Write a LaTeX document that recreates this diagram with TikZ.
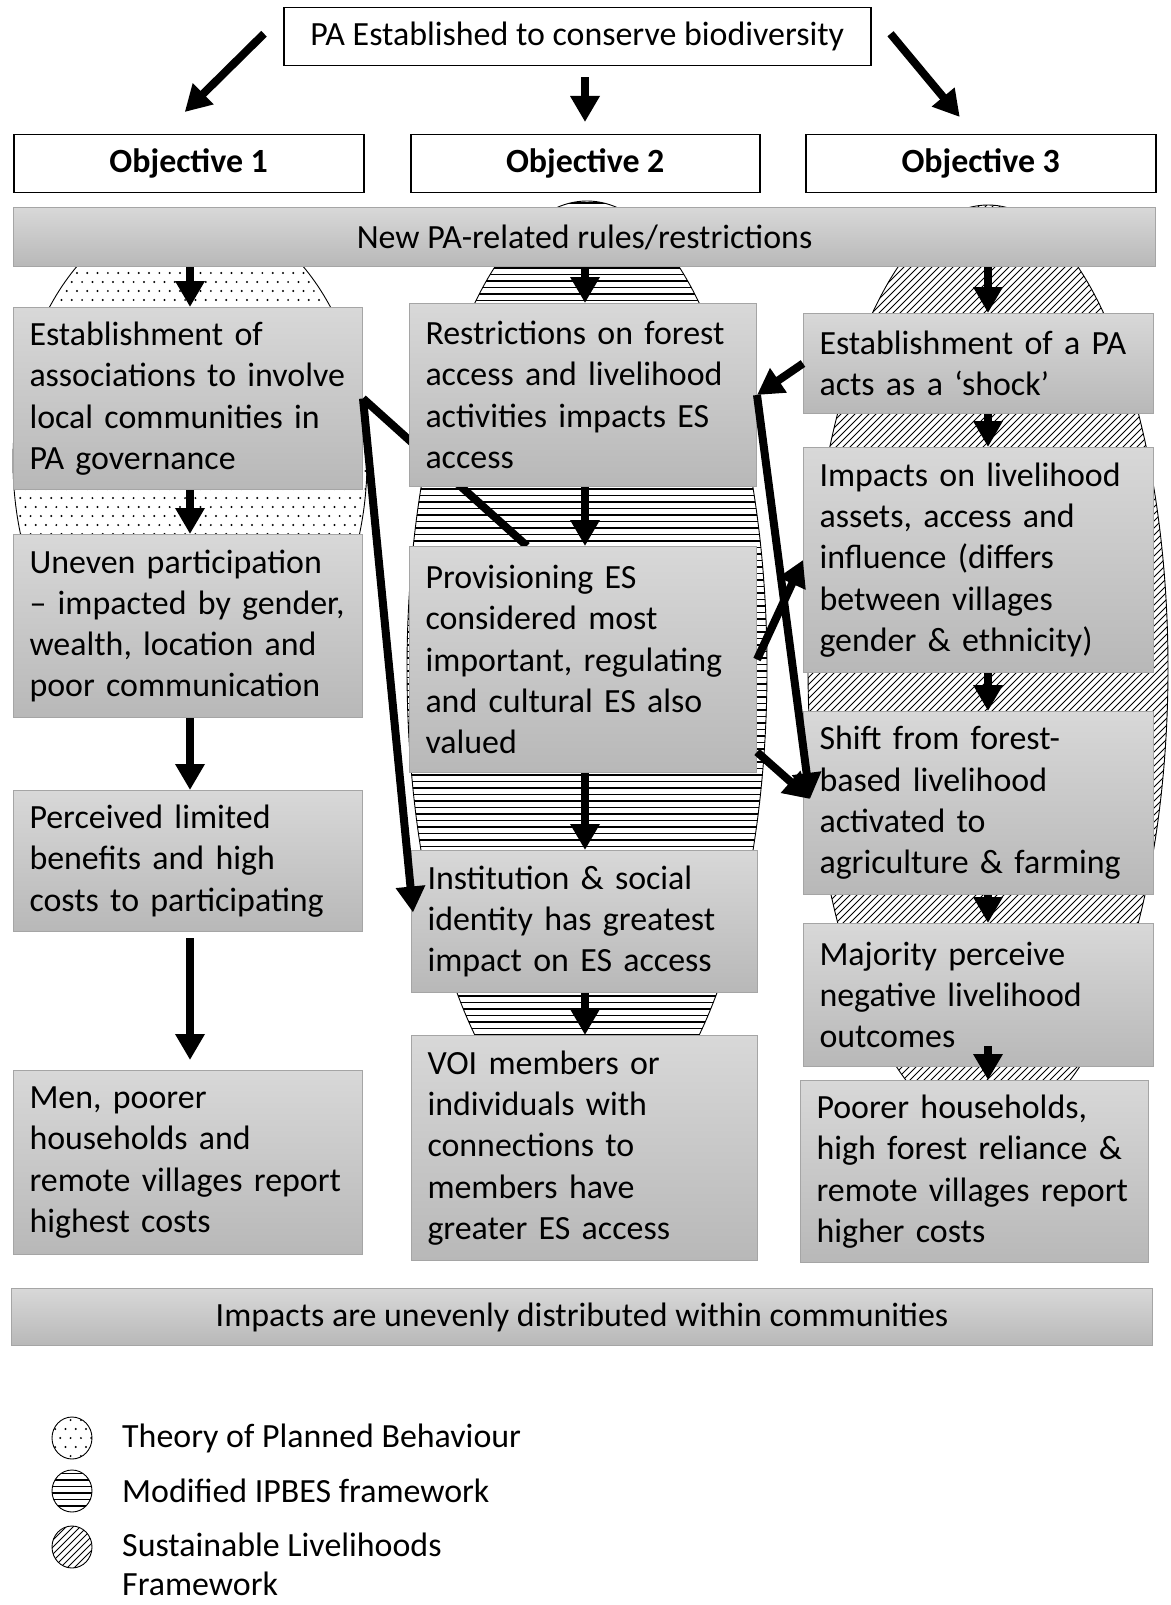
\documentclass[tikz,border=0pt]{standalone}
\usepackage{fontspec}
\setmainfont{Carlito}
\usetikzlibrary{arrows.meta,calc}

\definecolor{gtop}{RGB}{216,216,216}
\definecolor{gbot}{RGB}{184,184,184}
\definecolor{gedge}{RGB}{165,165,165}

\begin{document}
\begin{tikzpicture}[x=1pt,y=-1pt,
  txt/.style={font=\fontsize{33.9}{41.3}\selectfont},
  gbox/.style={txt, draw=gedge, line width=1pt, top color=gtop, bottom color=gbot,
               anchor=north west, align=left, inner xsep=16pt, inner ysep=0pt},
  wbox/.style={txt, draw=black, line width=1.5pt, fill=white, anchor=north west,
               inner sep=0pt, align=center},
  arr/.style={line width=8pt, -{Triangle[width=28pt,length=26pt]}},
  conn/.style={line width=8pt},
  rim/.style={draw=black, line width=0.9pt},
  dotmark/.style={fill=black},
  hline/.style={draw=black, line width=1.3pt},
  dline/.style={draw=black, line width=0.9pt},
]
\useasboundingbox (0,0) rectangle (1170,1605);
\fill[white] (0,0) rectangle (1170,1605);

% ---------- framework ovals behind the columns ----------
% Theory of Planned Behaviour (dots)
\begin{scope}
  \clip (190,461) ellipse [x radius=177pt, y radius=253pt];
  \foreach \j in {0,...,56} {
    \pgfmathsetmacro\off{mod(\j,2)*5.15}
    \foreach \i in {0,...,35}
      \fill[dotmark] (10+\off+\i*10.3, 210+\j*9) circle (1.1pt);
  }
\end{scope}
\draw[rim] (190,461) ellipse [x radius=177pt, y radius=253pt];

% Modified IPBES framework (horizontal lines)
\begin{scope}
  \clip (587,669) ellipse [x radius=180pt, y radius=468pt];
  \foreach \k in {0,...,145}
    \draw[hline] (400, 203+\k*6.5) -- (775, 203+\k*6.5);
\end{scope}
\draw[rim] (587,669) ellipse [x radius=180pt, y radius=468pt];

% Sustainable Livelihoods Framework (diagonal hatching)
\begin{scope}
  \clip (988,668) ellipse [x radius=180pt, y radius=463pt];
  \foreach \k in {0,...,185}
    \draw[dline] (-125+\k*7, 1135) -- (-125+\k*7+930, 205);
\end{scope}
\draw[rim] (988,668) ellipse [x radius=180pt, y radius=463pt];

% ---------- header ----------
\node[wbox, minimum width=587pt, minimum height=58pt] (pa) at (283,7)
  {PA Established to conserve biodiversity};
\node[wbox, minimum width=350pt, minimum height=58pt] (obj1) at (13,134) {\bfseries Objective 1};
\node[wbox, minimum width=349pt, minimum height=58pt] (obj2) at (410,134) {\bfseries Objective 2};
\node[wbox, minimum width=350pt, minimum height=58pt] (obj3) at (805,134) {\bfseries Objective 3};

\node[gbox, align=center, inner xsep=0pt, minimum width=1142pt, minimum height=59pt] (rules)
  at (13,207) {New PA-related rules/restrictions};

% ---------- left column ----------
\node[gbox, text width=317pt, minimum height=182pt] (estab) at (13,307)
  {Establishment of\\associations to involve\\local communities in\\PA governance};
\node[gbox, text width=317pt, minimum height=183pt] (uneven) at (13,534)
  {Uneven participation\\– impacted by gender,\\wealth, location and\\poor communication};
\node[gbox, text width=317pt, minimum height=141pt] (perc) at (13,790)
  {Perceived limited\\benefits and high\\costs to participating};
\node[gbox, text width=317pt, minimum height=184pt] (men) at (13,1070)
  {Men, poorer\\households and\\remote villages report\\highest costs};

% this link passes under the restrictions box
\coordinate (provtop) at (527,546);
\draw[conn] (estab.east) -- (provtop);

% ---------- middle column ----------
\node[gbox, text width=315pt, minimum height=183pt] (restr) at (409,303)
  {Restrictions on forest\\access and livelihood\\activities impacts ES\\access};
\node[gbox, text width=315pt, minimum height=226pt] (prov) at (409,546)
  {Provisioning ES\\considered most\\important, regulating\\and cultural ES also\\valued};
\node[gbox, text width=314pt, minimum height=142pt] (inst) at (411,850)
  {Institution \& social\\identity has greatest\\impact on ES access};
\node[gbox, text width=314pt, minimum height=225pt] (voi) at (411,1035)
  {VOI members or\\individuals with\\connections to\\members have\\greater ES access};

% ---------- right column ----------
\node[gbox, text width=318pt, minimum height=100pt] (shock) at (803,313)
  {Establishment of a PA\\acts as a ‘shock’};
\node[gbox, text width=318pt, minimum height=225pt] (impacts) at (803,447)
  {Impacts on livelihood\\assets, access and\\influence (differs\\between villages\\gender \& ethnicity)};
\node[gbox, text width=318pt, minimum height=183pt] (shift) at (803,711)
  {Shift from forest-\\based livelihood\\activated to\\agriculture \& farming};
\node[gbox, text width=318pt, minimum height=143pt] (major) at (803,923)
  {Majority perceive\\negative livelihood\\outcomes};
\node[gbox, text width=316pt, minimum height=182pt] (poorer) at (800,1080)
  {Poorer households,\\high forest reliance \&\\remote villages report\\higher costs};

% ---------- bottom band ----------
\node[gbox, align=center, inner xsep=0pt, minimum width=1141pt, minimum height=57pt] (uneq)
  at (11,1288) {Impacts are unevenly distributed within communities};

% ---------- arrows ----------
\coordinate (lc) at (190,0);
\coordinate (mc) at (585,0);
\coordinate (rc) at (988,0);

\draw[arr] ($(pa.west)+(-19,-3)$) -- ($(obj1.north)+(-4,-22)$);
\draw[arr] ($(mc |- pa.south)+(0,11)$) -- ($(mc |- obj2.north)+(0,-12)$);
\draw[arr] ($(pa.east)+(19,-3)$) -- ($(obj3.north)+(-21,-17)$);

\draw[arr] (lc |- rules.south) -- (lc |- estab.north);
\draw[arr] (lc |- estab.south) -- (lc |- uneven.north);
\draw[arr] (lc |- uneven.south) -- (lc |- perc.north);
\draw[arr] ($(lc |- perc.south)+(0,6)$) -- ($(lc |- men.north)+(0,-10)$);

\draw[arr] (mc |- rules.south) -- (mc |- restr.north);
\draw[arr] (mc |- restr.south) -- (mc |- prov.north);
\draw[arr] (mc |- prov.south) -- (mc |- inst.north);
\draw[arr] (mc |- inst.south) -- (mc |- voi.north);

\draw[arr] (rc |- rules.south) -- (rc |- shock.north);
\draw[arr] (rc |- shock.south) -- (rc |- impacts.north);
\draw[arr] (rc |- impacts.south) -- (rc |- shift.north);
\draw[arr] (rc |- shift.south) -- (rc |- major.north);
\draw[arr] ($(rc |- major.south)+(0,-21)$) -- (rc |- poorer.north);

% cross-column links
\draw[arr] (estab.east) -- ($(inst.west)+(2,-9)$);
\draw[arr] (shock.west) -- (restr.east);
\draw[arr] (restr.east) -- ($(shift.west)+(7,-4)$);
\draw[arr] (prov.east) -- (impacts.west);
\draw[arr] ($(prov.south east)+(0,-21)$) -- ($(shift.west)+(7,-4)$);

% ---------- legend ----------
\begin{scope}
  \clip (72,1438) ellipse [x radius=20pt, y radius=21pt];
  \foreach \j in {0,...,5} {
    \pgfmathsetmacro\off{mod(\j,2)*5.15}
    \foreach \i in {0,...,5}
      \fill[dotmark] (50+\off+\i*10.3, 1420+\j*9) circle (1.1pt);
  }
\end{scope}
\draw[rim] (72,1438) ellipse [x radius=20pt, y radius=21pt];

\begin{scope}
  \clip (72,1491) ellipse [x radius=20pt, y radius=21pt];
  \foreach \k in {0,...,7}
    \draw[hline] (48, 1467+\k*6.5) -- (96, 1467+\k*6.5);
\end{scope}
\draw[rim] (72,1491) ellipse [x radius=20pt, y radius=21pt];

\begin{scope}
  \clip (72,1547) ellipse [x radius=20pt, y radius=21pt];
  \foreach \k in {0,...,14}
    \draw[dline] (0+\k*7, 1572) -- (0+\k*7+50, 1522);
\end{scope}
\draw[rim] (72,1547) ellipse [x radius=20pt, y radius=21pt];

\node[txt, anchor=west, inner sep=0pt] (lg1) at (122,1438) {Theory of Planned Behaviour};
\node[txt, anchor=west, inner sep=0pt] (lg2) at (122,1491) {Modified IPBES framework};
\node[anchor=north west, align=left, inner sep=0pt,
      font=\fontsize{33.9}{39}\selectfont] (lg3) at (122,1533)
  {Sustainable Livelihoods\\Framework};
\end{tikzpicture}
\end{document}
